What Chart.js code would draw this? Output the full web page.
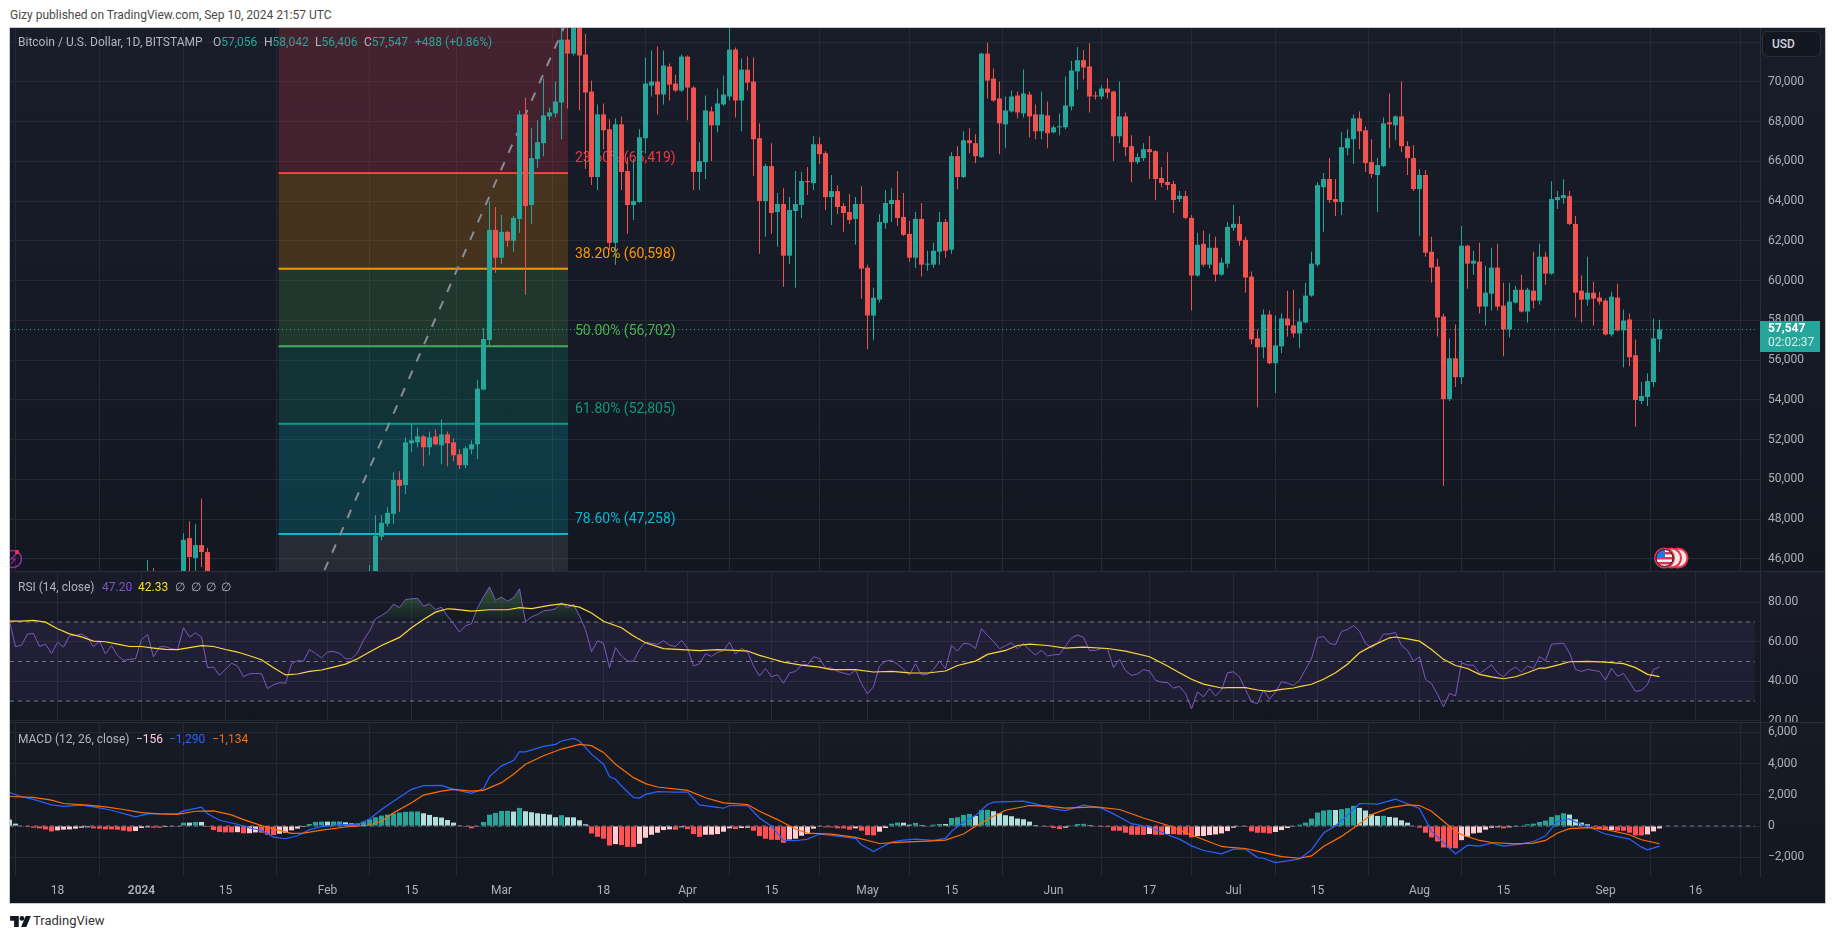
<!DOCTYPE html>
<html>
<head>
<meta charset="utf-8">
<script src="https://cdn.jsdelivr.net/npm/chart.js@4"></script>
<style>
html,body{margin:0;padding:0;background:#fff;width:1835px;height:939px;overflow:hidden;font-family:Roboto,sans-serif}
canvas{position:absolute;display:block}
.t{position:absolute;white-space:nowrap;font-size:12px;line-height:14px}
.line{position:absolute;background:#2a2e39}
.v{color:#26a69a}
</style>
</head>
<body>
<div class="t" style="left:10px;top:8px;color:#4a4a4a;font-size:12px">Gizy published on TradingView.com, Sep 10, 2024 21:57 UTC</div>
<div style="position:absolute;left:9px;top:27px;width:1817px;height:877px;box-sizing:border-box;border:1px solid #c9cbd1;background:#131722"></div>
<canvas id="priceCanvas" style="left:10px;top:28px"></canvas>
<canvas id="rsiCanvas" style="left:10px;top:572px"></canvas>
<canvas id="macdCanvas" style="left:10px;top:723px"></canvas>
<div class="line" style="left:10px;top:571px;width:1815px;height:1px"></div>
<div class="line" style="left:10px;top:722px;width:1815px;height:1px"></div>

<div class="t" style="left:18px;top:35px;color:#b2b5be">Bitcoin / U.S. Dollar, 1D, BITSTAMP</div>
<div class="t" style="left:213px;top:35px;color:#b2b5be">O<span class="v">57,056</span></div>
<div class="t" style="left:264px;top:35px;color:#b2b5be">H<span class="v">58,042</span></div>
<div class="t" style="left:315px;top:35px;color:#b2b5be">L<span class="v">56,406</span></div>
<div class="t" style="left:364px;top:35px;color:#b2b5be">C<span class="v">57,547</span></div>
<div class="t v" style="left:415px;top:35px">+488 (+0.86%)</div>
<div class="t" style="left:18px;top:580px;color:#b2b5be">RSI (14, close)</div>
<div class="t" style="left:102px;top:580px;color:#7e57c2">47.20</div>
<div class="t" style="left:138px;top:580px;color:#fdd835">42.33</div>
<div class="t" style="left:175px;top:580px;color:#b2b5be">∅</div>
<div class="t" style="left:191px;top:580px;color:#b2b5be">∅</div>
<div class="t" style="left:206px;top:580px;color:#b2b5be">∅</div>
<div class="t" style="left:221px;top:580px;color:#b2b5be">∅</div>
<div class="t" style="left:18px;top:732px;color:#b2b5be">MACD (12, 26, close)</div>
<div class="t" style="left:136px;top:732px;color:#ffcdd2">−156</div>
<div class="t" style="left:169px;top:732px;color:#2962ff">−1,290</div>
<div class="t" style="left:212px;top:732px;color:#ff6d00">−1,134</div>

<div style="position:absolute;left:1762px;top:31px;width:59px;height:26px;box-sizing:border-box;border:1px solid #2a2e39;border-radius:6px;background:#131722"></div>
<div class="t" style="left:1772px;top:37px;color:#d1d4dc;font-weight:500">USD</div>

<svg style="position:absolute;left:1650px;top:544px" width="42" height="28" viewBox="0 0 42 28">
  <defs><clipPath id="fc"><circle cx="14.5" cy="14" r="8.5"/></clipPath></defs>
  <circle cx="28" cy="14" r="9.5" fill="#f5e6e6" stroke="#e0344a" stroke-width="2"/>
  <circle cx="21.5" cy="14" r="9.5" fill="#f5e6e6" stroke="#e0344a" stroke-width="2"/>
  <circle cx="14.5" cy="14" r="9.5" fill="#fff" stroke="#e0344a" stroke-width="2"/>
  <g clip-path="url(#fc)">
    <rect x="5" y="5" width="20" height="18" fill="#f3f3f3"/>
    <rect x="5" y="8" width="20" height="2.5" fill="#e0344a"/><rect x="5" y="13" width="20" height="2.5" fill="#e0344a"/><rect x="5" y="18" width="20" height="2.5" fill="#e0344a"/>
    <rect x="5" y="5" width="10" height="9" fill="#2f6fe0"/>
  </g>
  <circle cx="14.5" cy="14" r="8.5" fill="none" stroke="#131722" stroke-width="1"/>
</svg>
<svg style="position:absolute;left:10px;top:546px" width="14" height="24" viewBox="0 0 14 24">
  <path d="M-4 5 A8.5 8.5 0 1 1 -4 21" transform="translate(4 0)" fill="none" stroke="#9c27b0" stroke-width="1.5"/>
  <path d="M6 8 L1 13 L5 13 L1 18" fill="none" stroke="#9c27b0" stroke-width="1.2"/>
  <circle cx="7" cy="6" r="2.2" fill="#f23645"/>
</svg>

<svg style="position:absolute;left:10px;top:916px" width="21" height="11" viewBox="0 0 36 19">
  <path d="M0 0H15V19H7V8H0Z" fill="#131722"/><circle cx="20.5" cy="4.2" r="4.2" fill="#131722"/><path d="M27 0H36L28 19H19Z" fill="#131722"/>
</svg>
<div class="t" style="left:33px;top:914px;color:#333;font-size:13px">TradingView</div>

<script>
// ---- time axis: x values are days counted from 1 Jan 2024 ----
const xTickDays   = [-14,0,14,31,45,60,77,91,105,121,135,152,168,182,196,213,227,244,259];
const xTickLabels = ['18','2024','15','Feb','15','Mar','18','Apr','15','May','15','Jun','17','Jul','15','Aug','15','Sep','16'];

// ---- price pane ticks ----
const priceTicks = [46000,48000,50000,52000,54000,56000,58000,60000,62000,64000,66000,68000,70000,72000];
const rsiTicks   = [20,40,60,80];
const macdTicks  = [-2000,0,2000,4000,6000];

// ---- candles: two days in early Jan, a week later, then Feb 8 .. Sep 10 every day ----
const earlyDays = [1,2,7,8,9,10,11];
const firstDailyDay = 38;

const open = [44200,44950,43950,47050,46050,46700,46350,
 44350,45300,47120,47770,48270,49980,49720,51820,51870,52170,51620,52170,51720,52270,51870,51270,50720,51520,51770,54520,57020,62560,
 61160,62460,62010,63110,68370,63810,66120,66920,68270,68420,68970,72130,71430,73090,71380,69520,65220,68370,67620,61910,67870,65520,63810,63960,67170,69820,70020,69370,70780,69920,69570,
 71280,69720,65470,65970,68520,67820,68870,69270,71630,69070,70620,70020,67170,64010,65770,63460,63860,61260,63510,63810,65020,64910,66870,66420,64210,64510,63760,63460,63110,63860,
 60660,58250,59050,62910,63860,64060,63210,62360,61160,63110,60810,60810,61460,62960,61560,66270,65220,67070,66920,66220,71430,70170,69170,67870,68520,69320,68420,69370,68370,67520,68320,
 67470,67720,67720,68770,70530,71100,70780,69320,69270,69670,69520,67270,68270,66770,65970,66170,66620,66520,65170,64970,64870,64110,64260,63160,60260,61860,60810,61660,60310,60860,
 62660,62860,62060,60210,57100,56650,58300,55850,56700,58100,57750,57350,57900,59250,60810,64710,65120,64110,63960,66670,67120,68170,67570,65970,65320,65770,67970,67820,68270,66770,66170,
 64610,65320,61460,60710,58200,54040,56100,55150,61760,60860,60960,58700,59350,60660,58750,57550,58900,59550,58450,59500,59000,61210,60360,64060,64160,64260,62860,59500,59050,59400,59150,
 59000,57300,59150,57500,58050,56250,53950,54150,54900,57056];
const high = [45950,45550,47300,47900,47750,49050,46550,
 45700,48200,48200,48620,50370,50420,52120,52840,52630,52220,52420,52520,53020,52420,52070,51520,51670,51970,55020,57620,64000,63710,
 63310,62510,63260,68570,69220,67670,68070,70180,68720,70020,72750,72900,73650,73780,72430,70070,68870,68920,68120,68170,68270,66220,66120,67620,71230,71580,71780,71580,70930,70370,71380,
 71330,69780,66970,69320,68770,69670,70330,72710,71730,71180,71280,71230,67920,65870,66920,64410,64660,64210,65520,65470,65720,67270,67220,66520,65320,64810,63910,64360,64210,64760,
 60810,59650,63360,64560,64660,65520,64410,63010,63460,63910,61510,61910,63460,63110,66470,66770,67520,67670,67370,71480,71980,70680,70020,69270,69570,69520,70630,69520,68870,69520,69020,
 67820,68420,70280,71060,71750,71600,71950,69520,69820,70170,69570,70020,68470,67320,66420,66920,67270,66570,65720,66470,65020,64510,64510,63310,62410,62510,62360,62210,61160,62960,
 63810,63260,62210,60460,57550,58550,58500,58250,58350,59500,59550,58600,59900,61460,64960,65420,66170,65120,67470,67620,68370,68520,67770,67120,66170,68220,69420,68320,70020,67020,66820,
 65620,65570,62210,61110,58350,57100,57800,62760,61810,61510,61910,60760,61660,61860,59900,59900,59750,60300,59650,61460,61860,61460,65010,64510,65110,64510,63260,60260,61210,59950,59450,
 59100,59450,59850,58550,58350,57050,54900,55350,58100,58042];
const low = [44150,40800,43250,44700,44350,45600,41500,
 44300,45250,46930,47620,47770,48370,49270,51370,51620,50670,51220,51720,50770,50670,50920,50520,50570,51270,51020,54520,56770,60400,
 60860,61710,61460,62410,59300,62860,65670,66270,68070,68220,67120,68670,71330,68570,65620,64820,64560,66620,61560,60810,64560,62360,63060,63910,66420,69270,68370,68870,69070,69500,69500,
 68070,64560,64560,65120,66020,67470,68800,69070,68220,67520,69570,65270,61360,62210,62360,61710,59700,60860,59650,63160,64310,64560,65870,63560,62810,63360,62460,62860,61810,59100,
 56550,57000,58900,62610,62960,62760,62250,60960,60660,60210,60500,60660,60810,61160,61360,64610,65170,66420,65920,66170,69170,69000,66370,66670,68470,68170,68220,67220,67120,67120,66670,
 67420,67320,67620,68570,69620,70120,68470,69120,69120,69170,66020,66920,66270,64960,65870,66020,65120,64060,64710,64560,63410,63960,63100,58500,60200,60710,60610,59960,60250,60660,
 62510,61760,59400,56800,53640,56100,55800,54350,56350,57200,57150,56600,57850,59200,60710,62460,63910,63260,63310,66320,65870,66620,65470,65170,63460,65720,66670,67070,66470,65320,64510,
 62260,61210,59910,57200,49680,53950,54650,54800,59600,60300,58350,57750,58500,58500,56200,57150,58850,58400,57900,58600,58800,59800,60300,63610,63860,62800,58150,57900,58750,57750,58800,
 57250,57200,57450,55650,55700,52650,53800,53700,54650,56406];
const close = [44950,42850,46970,46100,46700,46350,42800,
 45300,47170,47820,48320,49980,49680,51870,51970,52170,51620,52120,51770,52270,51820,51220,50720,51570,51770,54570,57070,62560,61160,
 62460,62010,63160,68370,63760,66170,66970,68320,68470,69020,72130,71430,73090,71330,69470,65220,68370,67570,61910,67870,65470,63810,64010,67220,69920,70020,69370,70830,69870,69570,71280,
 69720,65470,66020,68570,67820,68920,69370,71630,69070,70620,69970,67120,64010,65770,63410,63860,61260,63560,63860,65020,64960,66870,66370,64210,64510,63710,63410,63060,63860,60610,
 58250,59150,62960,63910,64060,63160,62310,61160,63110,60810,60860,61510,62960,61510,66270,65220,67070,66920,66270,71430,70070,69070,67920,68570,69270,68470,69420,68270,67520,68370,67420,
 67720,67770,68820,70580,71100,70730,69270,69270,69670,69470,67270,68270,66720,65970,66220,66620,66470,65120,64920,64820,64060,64280,63160,60260,61810,60810,61660,60310,60910,62710,
 62860,62010,60160,57050,56650,58300,55850,56750,58100,57750,57350,57950,59250,60860,64810,65120,64060,63960,66720,67170,68170,67520,65920,65370,65820,67920,67870,68270,66770,66170,64610,
 65320,61410,60660,58150,54040,56100,55150,61760,60860,61010,58700,59400,60660,58700,57550,58950,59550,58450,59550,59000,61210,60360,64110,64210,64310,62860,59400,59050,59400,59100,58950,
 57300,59200,57500,58000,56150,54000,54200,54950,57100,57547];

// ---- fibonacci retracement ----
const fibPct    = [0,23.6,38.2,50,61.8,78.6,100];
const fibPrice  = [73212,65419,60598,56702,52805,47258,40192];
const fibColor  = ['#f23645','#ff9800','#4caf50','#089981','#00bcd4','#787b86'];
const fibDays   = [22.83,71.08];
const fibLabels = ['23.60% (65,419)','38.20% (60,598)','50.00% (56,702)','61.80% (52,805)','78.60% (47,258)'];
const lastPrice = 57547;

// ---- RSI, one value per day from day -22 to day 253 ----
const rsiFirstDay = -22;
const rsi = [70.4,57.5,58.3,63.9,64.2,57.6,58.8,54.1,59.7,57.3,62.9,63.2,63.9,62.2,57.5,60.3,53.8,58.1,53.1,50.6,51.1,51.4,
 61,63.7,52.3,57.5,57.5,56.5,56,67.1,62.4,64.5,62.4,46.9,47.2,43,46,49.2,47.7,42.3,43.8,44,43.8,36.3,38.3,39.3,39,48.9,50.4,50.2,56.1,
 54.1,51.9,54.8,55.1,54.1,51.4,51.4,54.4,60.8,65.4,71.6,73.3,75.2,79,77.3,81.4,81.7,82,78,79.2,76.3,77.5,73,69.1,65,68.1,69.1,77.2,82.7,87.8,81,82.6,80.5,82.2,86.8,
 70.1,72.6,73.8,75.7,76,76.7,79.7,77.2,79,73,66.2,54.9,60.5,59.2,46.9,57,52.8,50.2,50.2,56.1,59.8,59.2,58.7,60.5,58.3,57.6,60.7,
 56.8,47.7,48.9,53.9,52.6,54.6,55.5,59.8,53.8,56.6,54.9,47.7,42.7,46.5,42.3,43.3,39,44.2,45,48.2,48.4,52.4,51.6,46.7,46.7,45,44.2,43.3,45.7,38.8,
 33.6,37.3,47.7,50.2,50.6,48.6,46.2,43.2,48.9,43.3,43.5,46,50.2,46.4,58.1,55.3,59.2,58.8,56.6,66.6,63.2,60.2,56.5,58,59.5,56.5,59.2,55.8,53.3,55.6,52.8,
 53.4,53.6,57.8,62,63.4,62.2,55.6,55.6,56.6,56.5,46.9,51.1,45.5,43,43.7,45.9,45.2,40.5,39.6,39.3,36.6,37.4,33.9,26,34.6,32.1,36.3,32.6,35.6,
 44.3,44.8,42.2,35.9,29.5,28.7,35.6,30.9,34.6,39.8,39,37.9,40.5,46,51.4,62,62.7,59.2,58.5,65.2,66.2,68.2,65.4,59.2,57,59.2,63.9,63.9,64.7,58.1,55.6,
 50.2,52.4,41,38.8,33.4,27,33.9,32.6,49.4,48.2,48.2,44,46,48.4,44.3,42.2,45.5,47.2,44.7,47.7,46.5,52.4,50.4,58.8,59,59.3,54.4,46,45,46,45.5,45,
 40.6,46.7,42.5,44,39.6,34.9,35.4,38.5,46,47.2];

// ---- RSI moving average, read at these days ----
const rsiMaDays = [-22,-20,-18,-16,-14,-12,-10,-8,-6,-4,-2,0,2,4,6,8,10,12,14,16,18,20,22,24,26,28,30,32,34,36,38,40,43,45,47,49,51,52,55,58,61,63,65,68,70,73,75,77,80,
 82,84,87,90,93,96,99,101,103,105,107,110,113,115,119,122,125,128,131,134,136,139,141,144,146,148,151,154,157,161,164,168,171,173,175,177,180,
 181,184,186,188,190,192,193,195,197,199,201,203,205,208,209,211,213,215,217,219,221,223,225,227,229,231,233,234,236,238,241,244,247,249,251,253];
const rsiMa = [70.4,70.4,70.8,69.9,66.6,64,62.5,60.3,60,58.8,57.6,57.6,56.8,56.1,56,57,58,57.6,56.1,54.8,52.9,50.9,46.9,43.2,43.7,45,45.7,47.2,48.7,51.4,54.8,58.1,62.2,67.1,71.3,75,76.7,76.5,75.5,76.2,76.2,77.3,76.8,78.4,79.2,77.5,74.6,70.4,67.1,
 62.9,59.5,56.5,56,55.5,56,55.6,55.3,53.1,51.4,49.7,48.2,47.2,45.9,45.9,44.7,45,44.3,44.2,45.2,48,50.2,53.6,55.6,58.1,58.8,58.1,56.8,57.3,56.6,55.3,52.4,47.7,44.3,41,38.6,36.6,
 36.8,36.8,35.6,34.9,35.9,36.6,37.3,38.5,41,44.3,48.6,54.4,57.8,62,62.4,61.5,60.3,56.1,51.1,48,46.5,43.5,42.2,41.3,42.3,44.3,46.7,46.7,48.2,49.9,50.1,49.7,48.9,46.9,43.5,42.33];
const rsiLevels = [70,50,30];
const rsiBandEndDay = 268.9;

// ---- MACD line, read at these days ----
const macdDays = [-22,-20,-18,-15,-13,-10,-8,-5,-1,1,6,7,10,11,13,16,18,20,22,24,26,28,30,33,36,38,40,42,45,47,50,52,55,57,58,60,62,63,64,67,69,70,72,73,75,
 77,78,79,80,82,83,84,86,89,91,93,95,97,98,101,103,105,107,109,111,113,115,119,120,122,123,125,127,129,132,134,135,137,139,141,142,147,149,152,154,157,160,162,165,168,171,173,175,177,180,
 182,184,186,187,189,191,193,195,197,199,201,203,206,209,211,213,215,219,221,223,225,227,230,232,234,236,238,239,242,244,248,250,251,253];
const macd = [2150,1870,1700,1355,1250,1330,1225,1010,580,775,775,970,1205,775,365,110,-130,-280,-710,-815,-625,-235,-45,85,85,450,1055,1590,2345,2580,2600,2345,2085,2385,3160,3850,4190,4750,4750,5095,5225,5440,5610,5440,4600,
 3955,3160,2990,2560,1830,1785,2020,2195,2170,2170,1355,1245,1140,1310,1310,515,-20,-925,-945,-840,-515,-600,-795,-1205,-1635,-1420,-1030,-905,-840,-925,-795,-345,260,665,1375,1525,1590,1420,1095,990,1335,1140,775,150,-65,-560,-840,-1270,-1570,-1785,
 -1485,-1485,-2020,-2065,-2345,-2235,-2105,-1525,-450,20,690,1440,1400,1720,1420,1120,-345,-1785,-1225,-1290,-1095,-1290,-1140,-990,-625,300,450,260,-195,-515,-840,-1355,-1525,-1290];

// ---- MACD signal, read at these days ----
const signalDays = [-22,-18,-15,-13,-9,-6,-3,0,3,6,9,12,15,17,20,23,25,27,30,34,38,40,42,45,47,50,52,55,57,60,62,64,67,70,73,75,77,
 79,82,84,86,91,94,97,101,103,106,109,111,115,119,123,127,131,134,137,139,142,144,148,151,154,159,163,167,171,175,180,
 181,184,187,190,193,195,197,200,203,205,208,211,213,215,218,220,223,225,229,232,234,236,238,241,244,248,250,253];
const signal = [1890,1830,1655,1440,1335,1225,1055,860,775,750,945,970,710,410,20,-280,-475,-450,-260,-65,65,300,840,1485,1980,2235,2345,2235,2280,2775,3310,3955,4495,4925,5225,5140,4710,
 3955,3095,2710,2495,2280,1805,1485,1375,945,410,-195,-450,-515,-730,-1120,-1030,-970,-905,-515,-20,625,1010,1310,1270,1140,1225,1055,515,45,-580,-1310,
 -1355,-1440,-1700,-1955,-2065,-1915,-1310,-665,150,730,1160,1355,1310,945,-20,-560,-925,-1055,-1140,-1095,-925,-450,-170,-105,-215,-560,-880,-1134];

// ---- MACD histogram, one value per day from day -22 to day 253 ----
const histFirstDay = -22;
const hist = [410,150,-40,-65,-110,-150,-215,-345,-280,-235,-215,-170,-110,-85,-150,-170,-215,-215,-235,-300,-345,-320,
 -130,-85,-110,-110,-65,-45,-20,215,215,260,260,-65,-260,-385,-410,-410,-395,-470,-460,-410,-430,-560,-580,-495,-430,-280,-170,-65,130,
 260,280,280,285,290,235,170,175,280,430,560,665,730,795,860,905,925,930,815,710,580,540,385,215,45,-65,-150,-20,260,730,840,965,970,925,1160,
 945,880,815,775,730,560,690,560,555,365,110,-475,-690,-815,-1250,-1160,-1225,-1335,-1340,-1140,-750,-560,-430,-260,-215,-235,-85,-195,-515,-690,-560,
 -555,-515,-365,-150,-195,-130,-110,-300,-645,-815,-880,-885,-1075,-860,-815,-625,-515,-170,-45,-85,-90,-150,-155,-235,-150,-300,-580,-600,-365,-130,150,215,210,85,195,65,-20,85,130,125,515,560,710,775,645,1030,1035,945,815,690,625,475,430,280,65,-20,-65,-130,-195,-110,45,130,135,65,-20,-65,-70,-300,-305,-430,-560,-565,-570,-515,-560,-565,-515,-520,-560,-565,-730,-645,-640,-580,-540,-475,-325,-110,-45,-65,-345,-430,-435,-475,-385,-260,-130,-45,85,215,475,860,990,1030,1025,1075,1140,1290,1160,990,750,645,650,580,540,365,215,-20,-110,-430,-730,-990,-1375,-1420,-1425,-905,-690,-475,-430,-235,-110,-85,-150,-85,-45,-40,110,150,260,345,580,690,815,730,430,215,110,-85,-170,-260,-255,-300,-305,-430,-600,-605,-540,-345,-156];

// ---- scale ranges chosen to place the panes ----
const xMin = -21.9167, xMax = 269.75;
const priceMin = 45396, priceMax = 72717;
const rsiMin = 19.4, rsiMax = 95.3;
const macdMin = -3200, macdMax = 6592;

// ---- styling ----
const GREEN='#26a69a', RED='#ef5350', GRID='#252934', TICK='#aeb1ba', AXIS='#2a2e39';
const FONT={family:'Roboto, sans-serif',size:12};
Chart.defaults.animation=false;
Chart.defaults.font=FONT;

const candleDays = earlyDays.concat(open.slice(earlyDays.length).map((_,i)=>firstDailyDay+i));
const candleColors = open.map((o,i)=>close[i]>=o?GREEN:RED);

function xScale(showTicks){
  return {type:'linear',min:xMin,max:xMax,offset:false,
    afterBuildTicks(s){s.ticks=xTickDays.map(v=>({value:v}));},
    afterFit(s){s.height=showTicks?27:0;s.paddingLeft=0;s.paddingRight=0;s.paddingTop=0;s.paddingBottom=0;},
    border:{display:false},
    grid:{color:GRID,drawTicks:false,lineWidth:1},
    ticks:{display:showTicks,autoSkip:false,maxRotation:0,minRotation:0,padding:8,color:TICK,
      font:(c)=>({family:FONT.family,size:12,weight:(c.tick&&c.tick.value===0)?'600':'400'}),
      callback:(v,i)=>xTickLabels[i]}};
}
function yScale(min,max,ticks,fmt){
  return {type:'linear',position:'right',min,max,
    afterBuildTicks(s){s.ticks=ticks.map(v=>({value:v}));},
    afterFit(s){s.width=65;s.paddingTop=0;s.paddingBottom=0;s.paddingLeft=0;s.paddingRight=0;},
    border:{display:true,color:AXIS},
    grid:{color:GRID,drawTicks:false,lineWidth:1},
    ticks:{autoSkip:false,padding:8,color:TICK,crossAlign:'near',font:FONT,callback:fmt}};
}
const commaFmt=v=>(v<0?'\u2212':'')+Math.abs(v).toLocaleString('en-US');
const noPlugins={legend:{display:false},tooltip:{enabled:false}};
function hLine(y,x0,x1,color,dash,order,width){
  return {type:'line',data:[{x:x0,y},{x:x1,y}],borderColor:color,borderWidth:width||1,borderDash:dash||[],pointRadius:0,fill:false,order};
}
function alphaHex(hex,a){const n=parseInt(hex.slice(1),16);return `rgba(${n>>16},${(n>>8)&255},${n&255},${a})`;}
function prep(id,w,h,top,bot){
  const c=document.getElementById(id);c.width=w;c.height=h;c.style.width=w+'px';c.style.height=h+'px';
  c.style.background=`linear-gradient(180deg,${top},${bot})`;return c;
}
const baseOpts={responsive:false,maintainAspectRatio:false,devicePixelRatio:1,layout:{padding:0},
  events:[],interaction:{mode:null}};

// ---- price pane ----
const fibDatasets = fibColor.map((col,i)=>({
  type:'line',
  data:fibDays.map(x=>({x,y:fibPrice[i+1]})),
  borderColor:i<5?col:'transparent',borderWidth:2,pointRadius:0,
  backgroundColor:alphaHex(col,0.2),
  fill:{target:{value:fibPrice[i]}},
  order:20-i}));

const annotations={id:'annotations',
  beforeDatasetsDraw(chart){
    const {ctx,scales:{x,y}}=chart;
    ctx.save();ctx.font='14px Roboto, sans-serif';ctx.textBaseline='middle';ctx.textAlign='left';
    fibLabels.forEach((t,i)=>{
      ctx.fillStyle=fibColor[i];
      ctx.fillText(t,x.getPixelForValue(fibDays[1])+7,y.getPixelForValue(fibPrice[i+1])-14.5);
    });
    ctx.restore();
  },
  afterDraw(chart){
    const {ctx,chartArea,scales:{y}}=chart;
    const py=y.getPixelForValue(lastPrice);
    ctx.save();
    ctx.fillStyle=GREEN;ctx.fillRect(chartArea.right,Math.round(py-8.5),60,31);
    ctx.textBaseline='middle';ctx.textAlign='left';
    ctx.fillStyle='#ffffff';ctx.font='bold 12px Roboto, sans-serif';
    ctx.fillText('57,547',chartArea.right+8,py-0.5);
    ctx.fillStyle='#d4eeeb';ctx.font='12px Roboto, sans-serif';
    ctx.fillText('02:02:37',chartArea.right+8,py+13);
    ctx.restore();
  }};

new Chart(prep('priceCanvas',1815,543,'#191d29','#131722'),{
  type:'bar',
  data:{datasets:[
    ...fibDatasets,
    {type:'line',data:[{x:fibDays[0],y:fibPrice[6]},{x:fibDays[1],y:fibPrice[0]}],borderColor:'#8a8c96',borderWidth:2,borderDash:[9,10],pointRadius:0,fill:false,order:3},
    hLine(lastPrice,xMin,xMax-0.4,GREEN,[1,3],0),
    {type:'bar',grouped:false,barThickness:1,inflateAmount:0,
      data:candleDays.map((x,i)=>({x,y:[low[i],high[i]]})),backgroundColor:candleColors,order:2},
    {type:'bar',grouped:false,barThickness:5,inflateAmount:0,minBarLength:1,
      data:candleDays.map((x,i)=>({x,y:[open[i],close[i]]})),backgroundColor:candleColors,order:1}
  ]},
  options:{...baseOpts,plugins:noPlugins,
    scales:{x:xScale(false),y:yScale(priceMin,priceMax,priceTicks,v=>v===72000?'':commaFmt(v))}},
  plugins:[annotations]
});

// ---- RSI pane ----
const rsiPoints = rsi.map((y,i)=>({x:rsiFirstDay+i,y}));
const rsiCanvas = prep('rsiCanvas',1815,150,'#191c28','#131722');
const rsiCtx = rsiCanvas.getContext('2d');
const rsiPx = r=>(rsiMax-r)/(rsiMax-rsiMin)*150;
const obGrad = rsiCtx.createLinearGradient(0,rsiPx(85),0,rsiPx(70));
obGrad.addColorStop(0,'rgba(76,175,80,0.35)');obGrad.addColorStop(1,'rgba(76,175,80,0)');
const osGrad = rsiCtx.createLinearGradient(0,rsiPx(30),0,rsiPx(25));
osGrad.addColorStop(0,'rgba(242,54,69,0)');osGrad.addColorStop(1,'rgba(242,54,69,0.35)');

new Chart(rsiCanvas,{
  type:'line',
  data:{datasets:[
    {data:[{x:xMin,y:rsiLevels[0]},{x:rsiBandEndDay,y:rsiLevels[0]}],borderWidth:0,pointRadius:0,
      backgroundColor:'rgba(126,87,194,0.1)',fill:{target:{value:rsiLevels[2]}},order:10},
    ...rsiLevels.map(l=>hLine(l,xMin,rsiBandEndDay,'#787b86',[4,4],9)),
    {data:rsiPoints,borderWidth:0,pointRadius:0,fill:{target:{value:70},above:obGrad,below:'transparent'},order:5},
    {data:rsiPoints,borderWidth:0,pointRadius:0,fill:{target:{value:30},above:'transparent',below:osGrad},order:5},
    {data:rsiPoints,borderColor:'#7e57c2',borderWidth:1,pointRadius:0,fill:false,tension:0,order:2},
    {data:rsiMaDays.map((x,i)=>({x,y:rsiMa[i]})),borderColor:'#fdd835',borderWidth:1.2,pointRadius:0,fill:false,order:1}
  ]},
  options:{...baseOpts,plugins:noPlugins,
    scales:{x:xScale(false),y:yScale(rsiMin,rsiMax,rsiTicks,v=>v.toFixed(2))}}
});

// ---- MACD pane ----
const histColors = hist.map((v,i)=>{
  const prev = i?hist[i-1]:v;
  return v>=0 ? (v>prev?'#26a69a':'#b2dfdb') : (v>prev?'#ffcdd2':'#ff5252');
});
new Chart(prep('macdCanvas',1815,180,'#171b26','#131722'),{
  type:'bar',
  data:{datasets:[
    hLine(0,xMin,rsiBandEndDay,'#787b86',[4,4],5),
    {type:'bar',grouped:false,barThickness:5,inflateAmount:0,
      data:hist.map((y,i)=>({x:histFirstDay+i,y})),backgroundColor:histColors,order:4},
    {type:'line',data:macdDays.map((x,i)=>({x,y:macd[i]})),borderColor:'#2962ff',borderWidth:1.2,pointRadius:0,fill:false,order:2},
    {type:'line',data:signalDays.map((x,i)=>({x,y:signal[i]})),borderColor:'#ff6d00',borderWidth:1.2,pointRadius:0,fill:false,order:1}
  ]},
  options:{...baseOpts,plugins:noPlugins,
    scales:{x:xScale(true),y:yScale(macdMin,macdMax,macdTicks,commaFmt)}}
});
</script>
</body>
</html>
